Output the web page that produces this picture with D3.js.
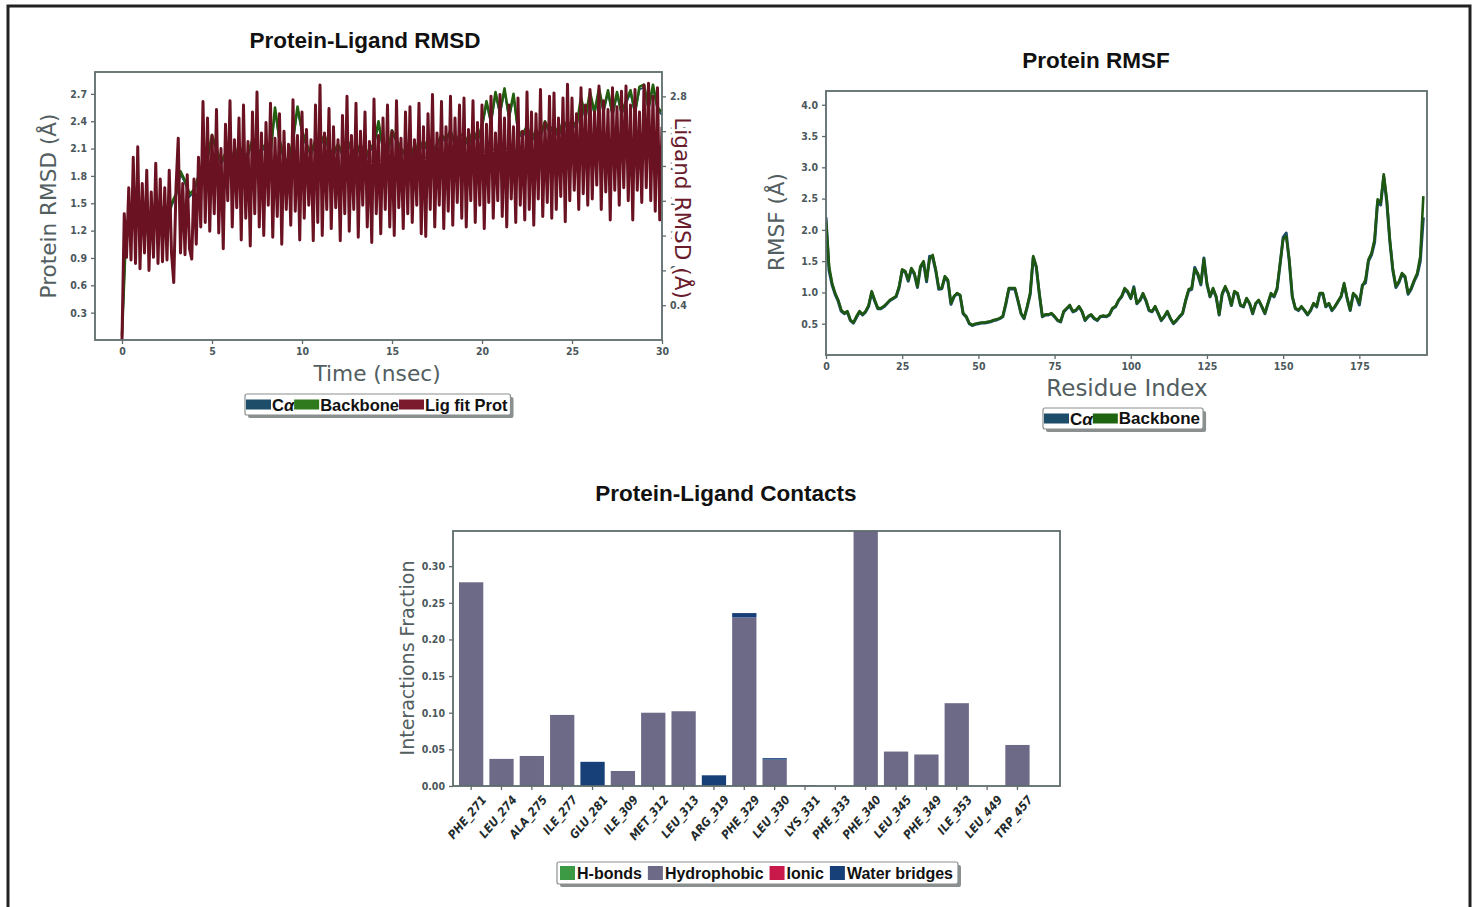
<!DOCTYPE html>
<html><head><meta charset="utf-8">
<script src="https://cdn.jsdelivr.net/npm/d3@7"></script>
<style>body{margin:0;background:#fff}svg{display:block}</style>
</head><body>
<svg id="c" width="1478" height="907"></svg>
<script>
// ---------------- DATA ----------------
// Protein-Ligand RMSD (time series)
const ligTimeStep = 0.125;   // ns between ligand samples
const protTimeStep = 0.25;   // ns between protein samples
const ligFitProt = [
 0.00,1.45,0.95,1.75,0.92,2.10,0.88,2.22,
 0.82,1.80,1.00,1.95,0.80,1.70,0.95,2.03,
 0.88,1.85,0.90,1.75,0.92,1.95,1.00,0.66,
 1.75,2.32,1.00,1.80,0.98,1.90,1.05,0.93,
 1.85,1.10,2.10,1.30,2.74,1.35,2.55,1.25,
 2.35,1.45,2.65,1.23,2.20,1.05,2.48,1.60,
 2.75,1.30,2.30,1.52,2.55,1.15,2.70,1.40,
 2.28,1.08,2.62,1.45,2.85,1.30,2.38,1.20,
 2.50,1.55,2.72,1.18,2.32,1.42,2.60,1.10,
 2.40,1.50,2.25,1.32,2.76,1.48,2.35,1.15,
 2.62,1.40,2.42,1.55,2.30,1.14,2.70,1.35,
 2.93,1.20,2.38,1.50,2.66,1.28,2.45,1.52,
 2.30,1.14,2.58,1.45,2.80,1.25,2.35,1.50,
 2.72,1.18,2.40,1.55,2.62,1.30,2.28,1.12,
 2.77,1.45,2.35,1.22,2.55,1.50,2.70,1.30,
 2.40,1.20,2.75,1.52,2.32,1.28,2.62,1.45,
 2.68,1.35,2.30,1.55,2.72,1.22,2.45,1.19,
 2.60,1.50,2.82,1.30,2.38,1.55,2.74,1.28,
 2.45,1.48,2.80,1.32,2.55,1.58,2.70,1.40,
 2.78,1.30,2.42,1.60,2.75,1.35,2.50,1.55,
 2.70,1.28,2.48,1.58,2.80,1.40,2.38,1.60,
 2.82,1.42,2.55,1.30,2.70,1.62,2.45,1.35,
 2.78,1.55,2.40,1.38,2.85,1.50,2.62,1.32,
 2.60,1.62,2.88,1.42,2.50,1.58,2.80,1.40,
 2.84,1.50,2.55,1.65,2.78,1.36,2.94,1.60,
 2.78,1.72,2.60,1.50,2.90,1.68,2.70,1.55,
 2.88,1.62,2.62,1.78,2.92,1.50,2.75,1.70,
 2.65,1.38,2.90,1.72,2.68,1.55,2.86,1.75,
 2.92,1.60,2.70,1.38,2.88,1.72,2.62,1.58,
 2.93,1.75,2.95,1.60,2.80,1.48,2.90,1.38,
 2.45];
const backboneRMSD = [
 0.05,1.30,1.15,1.45, 1.20,1.40,1.10,1.35, 1.25,1.45,1.20,1.50, 1.60,1.85,1.75,1.60,
 1.65,1.80,1.90,2.00, 2.25,2.10,1.95,2.05, 2.10,1.95,2.15,2.00, 2.05,2.20,2.00,2.10,
 2.15,2.05,2.55,2.20, 2.00,1.95,2.20,2.56, 2.30,2.15,2.05,2.20, 2.15,2.25,2.10,2.05,
 2.15,2.05,2.20,2.10, 2.05,2.15,2.00,2.10, 2.15,2.40,2.10,2.05, 2.30,2.20,2.10,2.05,
 2.15,2.00,2.20,2.10, 2.20,2.05,2.15,2.25, 2.20,2.30,2.15,2.25, 2.25,2.15,2.30,2.20,
 2.35,2.62,2.40,2.72, 2.50,2.76,2.45,2.70, 2.30,2.25,2.35,2.20, 2.30,2.25,2.40,2.30,
 2.35,2.25,2.40,2.35, 2.40,2.35,2.66,2.45, 2.72,2.50,2.76,2.52, 2.74,2.48,2.72,2.50,
 2.62,2.74,2.50,2.78, 2.80,2.55,2.80,2.55, 2.50];
const caRMSD = [
 0.04,1.27,1.12,1.42, 1.17,1.37,1.07,1.32, 1.22,1.42,1.17,1.47, 1.57,1.82,1.72,1.57,
 1.62,1.77,1.87,1.97, 2.22,2.07,1.92,2.02, 2.07,1.92,2.12,1.97, 2.02,2.17,1.97,2.07,
 2.12,2.02,2.52,2.17, 1.97,1.92,2.17,2.53, 2.27,2.12,2.02,2.17, 2.12,2.22,2.07,2.02,
 2.12,2.02,2.17,2.07, 2.02,2.12,1.97,2.07, 2.12,2.37,2.07,2.02, 2.27,2.17,2.07,2.02,
 2.12,1.97,2.17,2.07, 2.17,2.02,2.12,2.22, 2.17,2.27,2.12,2.22, 2.22,2.12,2.27,2.17,
 2.32,2.59,2.37,2.69, 2.47,2.73,2.42,2.67, 2.27,2.22,2.32,2.17, 2.27,2.22,2.37,2.27,
 2.32,2.22,2.37,2.32, 2.37,2.32,2.63,2.42, 2.69,2.47,2.73,2.49, 2.71,2.45,2.69,2.47,
 2.59,2.71,2.47,2.75, 2.77,2.52,2.77,2.52, 2.47];
const rmsdXTicks = [0,5,10,15,20,25,30];
const rmsdLeftTicks = [0.3,0.6,0.9,1.2,1.5,1.8,2.1,2.4,2.7];
const rmsdRightTicks = [0.4,0.8,1.2,1.6,2.0,2.4,2.8];

// Protein RMSF (per residue, index 0..196)
const rmsfBackbone = [
 2.15,1.42,1.15,0.99,0.88,0.72,0.67,0.70,0.56,0.52,
 0.62,0.70,0.65,0.70,0.80,1.02,0.88,0.75,0.75,0.78,
 0.83,0.88,0.91,0.94,1.10,1.37,1.34,1.20,1.39,1.31,
 1.10,1.42,1.50,1.20,1.53,1.60,1.37,1.07,1.07,1.26,
 1.20,0.83,0.94,0.99,0.96,0.67,0.62,0.51,0.48,0.50,
 0.51,0.52,0.52,0.53,0.54,0.56,0.57,0.59,0.62,0.83,
 1.07,1.07,1.07,0.88,0.67,0.59,0.78,0.99,1.58,1.42,
 0.99,0.62,0.65,0.65,0.67,0.62,0.56,0.54,0.70,0.75,
 0.80,0.70,0.72,0.78,0.70,0.56,0.62,0.65,0.59,0.56,
 0.62,0.63,0.62,0.65,0.75,0.78,0.88,0.94,1.07,1.02,
 0.91,1.07,0.83,0.88,0.99,0.88,0.72,0.70,0.78,0.67,
 0.56,0.62,0.70,0.59,0.51,0.56,0.62,0.67,0.88,1.05,
 1.07,1.37,1.31,1.15,1.53,1.15,0.94,1.07,0.94,0.65,
 0.99,1.10,0.99,0.80,1.02,0.99,0.80,0.78,0.91,0.83,
 0.67,0.83,0.88,0.78,0.67,0.83,0.99,0.94,1.07,1.47,
 1.85,1.90,1.53,0.94,0.75,0.72,0.78,0.72,0.65,0.72,
 0.83,0.78,0.99,0.99,0.78,0.83,0.72,0.78,0.86,0.94,
 1.15,0.91,0.72,0.99,0.94,0.83,1.10,1.20,1.53,1.63,
 1.85,2.49,2.43,2.89,2.49,1.85,1.37,1.10,1.18,1.31,
 1.26,0.99,1.07,1.20,1.31,1.58,2.54];
const rmsfCA = [
 2.20,1.35,1.12,0.97,0.86,0.70,0.66,0.69,0.55,0.51,
 0.60,0.69,0.64,0.69,0.78,1.00,0.86,0.74,0.74,0.77,
 0.82,0.87,0.90,0.93,1.08,1.35,1.33,1.18,1.37,1.29,
 1.08,1.40,1.48,1.17,1.58,1.56,1.35,1.05,1.06,1.24,
 1.18,0.81,0.93,0.98,0.95,0.66,0.61,0.50,0.47,0.49,
 0.50,0.51,0.51,0.52,0.53,0.55,0.56,0.58,0.61,0.81,
 1.05,1.06,1.05,0.86,0.66,0.58,0.76,0.97,1.56,1.40,
 0.97,0.61,0.64,0.64,0.66,0.61,0.55,0.53,0.69,0.74,
 0.78,0.69,0.71,0.77,0.69,0.55,0.61,0.64,0.58,0.55,
 0.61,0.62,0.61,0.64,0.74,0.77,0.87,0.93,1.05,1.00,
 0.90,1.09,0.82,0.87,0.97,0.86,0.71,0.69,0.77,0.66,
 0.55,0.61,0.69,0.58,0.50,0.55,0.61,0.66,0.86,1.03,
 1.05,1.40,1.28,1.12,1.55,1.13,0.93,1.05,0.93,0.64,
 0.97,1.08,0.98,0.79,1.00,0.98,0.79,0.77,0.90,0.82,
 0.66,0.82,0.87,0.77,0.66,0.82,0.97,0.93,1.05,1.45,
 1.88,1.95,1.50,0.93,0.74,0.71,0.77,0.71,0.64,0.71,
 0.82,0.77,0.97,0.98,0.77,0.82,0.71,0.77,0.85,0.93,
 1.13,0.90,0.71,0.97,0.93,0.80,1.12,1.15,1.50,1.60,
 1.80,2.45,2.40,2.85,2.45,1.82,1.35,1.08,1.16,1.29,
 1.24,0.97,1.05,1.18,1.28,1.50,2.20];
const rmsfXTicks = [0,25,50,75,100,125,150,175];
const rmsfYTicks = [0.5,1.0,1.5,2.0,2.5,3.0,3.5,4.0];

// Protein-Ligand Contacts
const residues = ["PHE_271","LEU_274","ALA_275","ILE_277","GLU_281","ILE_309","MET_312","LEU_313","ARG_319","PHE_329","LEU_330","LYS_331","PHE_333","PHE_340","LEU_345","PHE_349","ILE_353","LEU_449","TRP_457"];
const hBonds       = [0,0,0,0,0,0,0,0,0,0,0,0,0,0,0,0,0,0,0];
const hydrophobic  = [0.278,0.037,0.041,0.097,0,0.0205,0.100,0.102,0,0.230,0.036,0.001,0,0.360,0.047,0.043,0.113,0,0.056];
const ionic        = [0,0,0,0,0,0,0,0,0,0,0,0,0,0,0,0,0,0,0];
const waterBridges = [0,0,0,0,0.033,0,0,0,0.0146,0.006,0.002,0,0,0,0,0,0,0,0];
const contactYTicks = [0,0.05,0.10,0.15,0.20,0.25,0.30];

// ---------------- STYLE ----------------
const AX = "#5e6c6c", TICKTXT = "#4b575b", LBL = "#525e5f";
const TFONT = "'DejaVu Sans Condensed','DejaVu Sans',sans-serif";
const C_CA = "#1d4d68", C_BB = "#22600f", C_LIG = "#6a1222";
const C_HB = "#3c9a45", C_HY = "#6d6a88", C_IO = "#c8194a", C_WB = "#173f78";

const svg = d3.select("#c");
svg.append("rect").attr("x",8).attr("y",6).attr("width",1462).attr("height",920)
  .attr("fill","none").attr("stroke","#222").attr("stroke-width",3);

function styleAxis(g){
  g.select(".domain").remove();
  g.selectAll(".tick line").attr("stroke",AX).attr("stroke-width",1.3);
  g.selectAll(".tick text").attr("fill",TICKTXT).attr("font-family",TFONT)
    .attr("font-weight","bold").attr("font-size","10.5px");
}
function frame(x0,y0,x1,y1){
  svg.append("rect").attr("x",x0).attr("y",y0).attr("width",x1-x0).attr("height",y1-y0)
    .attr("fill","none").attr("stroke",AX).attr("stroke-width",1.8);
}
function title(t,x,y){
  svg.append("text").attr("x",x).attr("y",y).attr("text-anchor","middle")
    .attr("font-family","'Liberation Sans',Arial,sans-serif").attr("font-weight","bold")
    .attr("font-size","22.5px").attr("fill","#111").text(t);
}
function axisLabel(t,x,y,rot,size,color){
  return svg.append("text").attr("transform",`translate(${x},${y}) rotate(${rot})`)
    .attr("text-anchor","middle").attr("dominant-baseline","middle")
    .attr("font-family","'DejaVu Sans',sans-serif").attr("font-size",size+"px")
    .attr("fill",color||LBL).text(t);
}
function clip(id,x0,y0,x1,y1){
  svg.append("clipPath").attr("id",id).append("rect")
    .attr("x",x0).attr("y",y0).attr("width",x1-x0).attr("height",y1-y0);
}
function legend(x,y,h,items,opts){
  const g = svg.append("g");
  const shadow = g.append("rect").attr("fill","#8a8f8f");
  const box = g.append("rect").attr("fill","#fff").attr("stroke","#8b9090").attr("stroke-width",1.2);
  let cx = x + opts.pad;
  items.forEach(it=>{
    g.append("rect").attr("x",cx).attr("y",y+(h-opts.ph)/2).attr("width",opts.pw).attr("height",opts.ph).attr("fill",it.color);
    cx += opts.pw + opts.gap;
    const t = g.append("text").attr("x",cx).attr("y",y+h/2).attr("dominant-baseline","central")
      .attr("font-family","'Liberation Sans',Arial,sans-serif").attr("font-weight","bold")
      .attr("font-size",opts.fs+"px").attr("fill","#111");
    if(it.label==="Cα"){ t.append("tspan").text("C"); t.append("tspan").attr("font-style","italic").text("α"); }
    else t.text(it.label);
    cx += t.node().getComputedTextLength() + opts.after;
  });
  const w = cx - x - opts.after + opts.pad + 2;
  box.attr("x",x).attr("y",y).attr("width",w).attr("height",h).attr("rx",2);
  shadow.attr("x",x+3).attr("y",y+3).attr("width",w).attr("height",h).attr("rx",2);
}

// ---------------- CHART 1: Protein-Ligand RMSD ----------------
{
  const L=95,R=662,T=72,B=340;
  const x = d3.scaleLinear().domain([-1.5,30]).range([L,R]);
  const yL = d3.scaleLinear().domain([0,2.94]).range([B,T]);
  const yR = d3.scaleLinear().domain([0,3.08]).range([B,T]);
  clip("cp1",L,T,R,B);
  const g = svg.append("g").attr("clip-path","url(#cp1)");
  const lineProt = d3.line().x((d,i)=>x(i*protTimeStep)).y(d=>yL(d));
  const lineLig = d3.line().x((d,i)=>x(i*ligTimeStep)).y(d=>yR(d));
  g.append("path").datum(caRMSD).attr("d",lineProt).attr("fill","none").attr("stroke",C_CA).attr("stroke-width",1.8);
  g.append("path").datum(backboneRMSD).attr("d",lineProt).attr("fill","none").attr("stroke",C_BB).attr("stroke-width",2.6).attr("stroke-linejoin","round");
  g.append("path").datum(ligFitProt).attr("d",lineLig).attr("fill","none").attr("stroke",C_LIG).attr("stroke-width",3).attr("stroke-linejoin","round");
  frame(L,T,R,B);
  svg.append("g").attr("transform",`translate(0,${B})`)
    .call(d3.axisBottom(x).tickValues(rmsdXTicks).tickSize(4).tickPadding(4).tickFormat(d3.format("d"))).call(styleAxis);
  svg.append("g").attr("transform",`translate(${L},0)`)
    .call(d3.axisLeft(yL).tickValues(rmsdLeftTicks).tickSize(4).tickPadding(4).tickFormat(d3.format(".1f"))).call(styleAxis);
  svg.append("g").attr("transform",`translate(${R},0)`)
    .call(d3.axisRight(yR).tickValues(rmsdRightTicks).tickSize(4).tickPadding(4).tickFormat(d3.format(".1f"))).call(styleAxis);
  title("Protein-Ligand RMSD",365,48);
  axisLabel("Time (nsec)",377,375,0,21.7);
  axisLabel("Protein RMSD (Å)",50,206,-90,21.6);
  axisLabel("Ligand RMSD (Å)",681,208,90,21.6,"#6a1c2c")
    .attr("stroke","#fff").attr("stroke-width",7).attr("stroke-linejoin","round").attr("paint-order","stroke");
  legend(245,394,21,[{label:"Cα",color:C_CA},{label:"Backbone",color:"#2f7a1c"},{label:"Lig fit Prot",color:"#7a1a2c"}],
    {pad:1,pw:25,ph:10,gap:1,after:0,fs:16.5});
}

// ---------------- CHART 2: Protein RMSF ----------------
{
  const L=826,R=1427,T=91,B=355;
  const x = d3.scaleLinear().domain([0,197.2]).range([L,R]);
  const y = d3.scaleLinear().domain([0,4.22]).range([B,T]);
  clip("cp2",L,T,R,B);
  const g = svg.append("g").attr("clip-path","url(#cp2)");
  const line = d3.line().x((d,i)=>x(i)).y(d=>y(d));
  g.append("path").datum(rmsfCA).attr("d",line).attr("fill","none").attr("stroke",C_CA).attr("stroke-width",3).attr("stroke-linejoin","round");
  g.append("path").datum(rmsfBackbone).attr("d",line).attr("fill","none").attr("stroke","#1e5810").attr("stroke-width",2.6).attr("stroke-linejoin","round");
  frame(L,T,R,B);
  svg.append("g").attr("transform",`translate(0,${B})`)
    .call(d3.axisBottom(x).tickValues(rmsfXTicks).tickSize(4).tickPadding(4).tickFormat(d3.format("d"))).call(styleAxis);
  svg.append("g").attr("transform",`translate(${L},0)`)
    .call(d3.axisLeft(y).tickValues(rmsfYTicks).tickSize(4).tickPadding(4).tickFormat(d3.format(".1f"))).call(styleAxis);
  title("Protein RMSF",1096,68);
  axisLabel("Residue Index",1127,389,0,23);
  axisLabel("RMSF (Å)",778,222,-90,21.5);
  legend(1043,408,21,[{label:"Cα",color:C_CA},{label:"Backbone",color:"#1f6410"}],
    {pad:1,pw:25,ph:10,gap:1,after:0,fs:17});
}

// ---------------- CHART 3: Protein-Ligand Contacts ----------------
{
  const L=453,R=1060,T=531,B=786;
  const keys = ["hBonds","hydrophobic","ionic","waterBridges"];
  const colors = {hBonds:C_HB,hydrophobic:C_HY,ionic:C_IO,waterBridges:C_WB};
  const rows = residues.map((r,i)=>({res:r,hBonds:hBonds[i],hydrophobic:hydrophobic[i],ionic:ionic[i],waterBridges:waterBridges[i]}));
  const stacked = d3.stack().keys(keys)(rows);
  const x = d3.scaleBand().domain(residues).range([L,R]).paddingInner(0.2).paddingOuter(0.6).align(0.165);
  const y = d3.scaleLinear().domain([0,0.348]).range([B,T]);
  clip("cp3",L,T,R,B);
  const g = svg.append("g").attr("clip-path","url(#cp3)");
  stacked.forEach(s=>{
    g.selectAll(null).data(s).enter().append("rect")
      .attr("x",d=>x(d.data.res)).attr("width",x.bandwidth())
      .attr("y",d=>y(d[1])).attr("height",d=>Math.max(0,y(d[0])-y(d[1])))
      .attr("fill",colors[s.key]);
  });
  frame(L,T,R,B);
  const ax = svg.append("g").attr("transform",`translate(0,${B})`)
    .call(d3.axisBottom(x).tickSize(4).tickPadding(4)).call(styleAxis);
  ax.selectAll(".tick text").attr("text-anchor","end").attr("font-style","italic")
    .attr("font-size","12px").attr("fill","#1f2b2c")
    .attr("dy",null).attr("y",null)
    .attr("transform","translate(16,14) rotate(-50)");
  svg.append("g").attr("transform",`translate(${L},0)`)
    .call(d3.axisLeft(y).tickValues(contactYTicks).tickSize(4).tickPadding(4).tickFormat(d3.format(".2f"))).call(styleAxis);
  title("Protein-Ligand Contacts",726,501);
  axisLabel("Interactions Fraction",408,658,-90,19);
  legend(557,862,22,[{label:"H-bonds",color:C_HB},{label:"Hydrophobic",color:C_HY},{label:"Ionic",color:C_IO},{label:"Water bridges",color:C_WB}],
    {pad:3,pw:15,ph:14,gap:2,after:6,fs:16});
}
</script>
</body></html>
